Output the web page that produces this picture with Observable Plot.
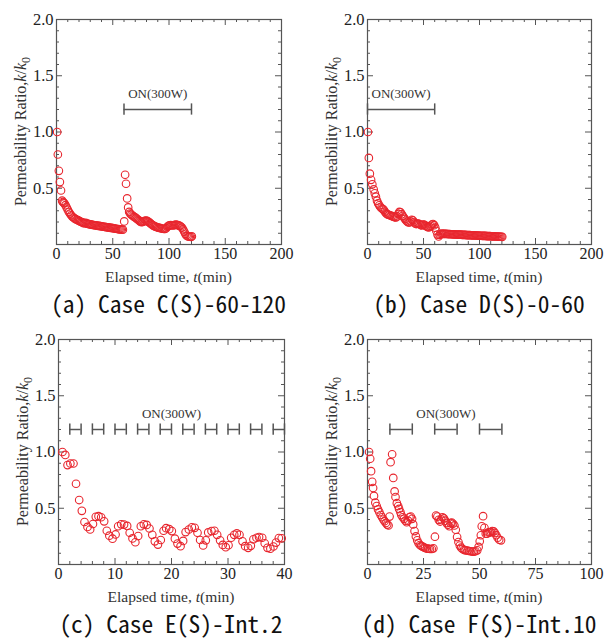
<!DOCTYPE html>
<html><head><meta charset="utf-8">
<script src="https://cdn.jsdelivr.net/npm/d3@7"></script>
<script src="https://cdn.jsdelivr.net/npm/@observablehq/plot@0.6"></script>
<style>
body{margin:0;background:#fff;}
#grid{display:grid;grid-template-columns:302px 302px;width:604px;}
.cell{width:302px;height:320px;position:relative;}
.cell svg{position:absolute;left:0;top:0;}
.cap{position:absolute;top:288px;height:30px;line-height:30px;text-align:center;font-family:"Noto Sans Mono CJK JP","DejaVu Sans Mono",monospace;font-size:23.5px;color:#111;white-space:pre;}
</style></head><body><div id="grid"></div>
<script>
// ---- data ----
const caseC = [[0.6,1.00],[1.2,0.80],[2.1,0.655],[3.0,0.555],[4.0,0.48],[5.0,0.39],[5.6,0.378],[6.3,0.372],[7,0.365],[8,0.35],[9,0.33],[10,0.31],[11,0.29],[12,0.275],[13,0.26],[14,0.248],[15,0.24],[16,0.232],[17,0.226],[18,0.22],[19,0.216],[20,0.21],[21,0.205],[22,0.2],[23,0.196],[24,0.19],[25,0.19],[26,0.192],[27,0.186],[28,0.183],[29,0.181],[30,0.179],[31,0.177],[32,0.175],[33,0.173],[34,0.171],[35,0.17],[36,0.168],[37,0.166],[38,0.165],[39,0.163],[40,0.161],[41,0.16],[42,0.158],[43,0.157],[44,0.155],[45,0.153],[46,0.152],[47,0.15],[48,0.148],[49,0.147],[50,0.145],[51,0.143],[52,0.142],[53,0.14],[54,0.138],[55,0.137],[56,0.135],[57,0.134],[58,0.133],[59,0.132],
[60.2,0.205],[61,0.62],[61.8,0.54],[62.8,0.41],[63.7,0.33],[64.6,0.29],[65.5,0.275],[66.5,0.265],[67.5,0.258],[68.5,0.25],[69.5,0.243],[70.5,0.236],[71.5,0.228],[72.5,0.22],[73.5,0.212],[74.5,0.204],[75.5,0.198],[76.5,0.2],[77.5,0.205],[78.5,0.21],[79.5,0.212],[80.5,0.21],[81.5,0.204],[82.5,0.196],[83.5,0.188],[84.5,0.18],[85.5,0.172],[86.5,0.166],[87.5,0.161],[88.5,0.157],[89.5,0.153],[90.5,0.15],[91.5,0.148],[92.5,0.145],[93.5,0.142],[94.5,0.14],[95.5,0.138],[96.5,0.138],[97.5,0.145],[98.5,0.158],[99.5,0.166],[100.5,0.17],[101.5,0.172],[102.5,0.171],[103.5,0.17],[104.5,0.172],[105.5,0.175],[106.5,0.176],[107.5,0.173],[108.5,0.17],[109.5,0.166],[110.5,0.16],[111.5,0.15],[112.5,0.135],[113.5,0.115],[114.5,0.095],[115.5,0.08],[116.5,0.074],[117.5,0.07],[118.5,0.069],[119.5,0.068],[120.3,0.072]];

const caseD = [[0.4,1.0],[1.2,0.77],[2.1,0.63],[3.2,0.575],[4.3,0.535],[5.5,0.49],[6.5,0.455],[7.5,0.425],[8.5,0.39],[9.5,0.365],[10.5,0.348],[11.5,0.333],[12.5,0.322],[13.5,0.316],[14.5,0.308],[15.5,0.292],[16.5,0.278],[17.5,0.27],[18.5,0.266],[19.5,0.262],[20.5,0.258],[21.5,0.254],[22.5,0.25],[23.5,0.246],[24.5,0.242],[25.5,0.24],[26.5,0.25],[27.5,0.272],[28.5,0.29],[29.5,0.286],[30.5,0.27],[31.5,0.255],[32.5,0.24],[33.5,0.226],[34.5,0.213],[35.5,0.203],[36.5,0.196],[37.5,0.196],[38.5,0.206],[39.5,0.22],[40.5,0.215],[41.5,0.2],[42.5,0.187],[43.5,0.182],[44.5,0.186],[45.5,0.186],[46.5,0.18],[47.5,0.173],[48.5,0.17],[49.5,0.176],[50.5,0.178],[51.5,0.17],[52.5,0.162],[53.5,0.156],[54.5,0.152],[55.5,0.156],[56.5,0.166],[57.5,0.178],[58.5,0.182],[59.5,0.172],[60.5,0.15],[61.5,0.12],[62.5,0.088],[63.5,0.072],[64.5,0.086],[65.5,0.093],[66.5,0.096],[67.5,0.095],[68.5,0.095],[69.5,0.094],[70.5,0.094],[71.5,0.093],[72.5,0.093],[73.5,0.092],[74.5,0.091],[75.5,0.091],[76.5,0.09],[77.5,0.09],[78.5,0.089],[79.5,0.089],[80.5,0.088],[81.5,0.088],[82.5,0.087],[83.5,0.087],[84.5,0.086],[85.5,0.086],[86.5,0.085],[87.5,0.085],[88.5,0.084],[89.5,0.084],[90.5,0.083],[91.5,0.083],[92.5,0.082],[93.5,0.082],[94.5,0.081],[95.5,0.081],[96.5,0.08],[97.5,0.08],[98.5,0.079],[99.5,0.079],[100.5,0.078],[101.5,0.078],[102.5,0.077],[103.5,0.077],[104.5,0.076],[105.5,0.076],[106.5,0.075],[107.5,0.075],[108.5,0.074],[109.5,0.074],[110.5,0.073],[111.5,0.073],[112.5,0.072],[113.5,0.072],[114.5,0.071],[115.5,0.071],[116.5,0.07],[117.5,0.07],[118.5,0.069],[119.5,0.069],[120.3,0.068]];

const caseE = [[0.7,1.0],[1.2,0.974],[1.6,0.884],[2.1,0.898],[2.65,0.898],[3.1,0.718],[3.66,0.573],[4.13,0.477],[4.6,0.378],[5.13,0.334],[5.6,0.311],[6.1,0.36],[6.6,0.424],[7.08,0.43],[7.55,0.42],[8.08,0.384],[8.55,0.30],[9.0,0.256],[9.56,0.23],[10.1,0.267],[10.56,0.34],[11.1,0.357],[11.6,0.355],[12.15,0.343],[12.6,0.282],[13.1,0.232],[13.6,0.198],[14.1,0.253],[14.57,0.34],[15.1,0.357],[15.6,0.352],[16.1,0.32],[16.6,0.264],[17.05,0.206],[17.6,0.177],[18.1,0.218],[18.6,0.30],[19.05,0.323],[19.6,0.314],[20.06,0.297],[20.6,0.23],[21.06,0.186],[21.6,0.163],[22.06,0.21],[22.5,0.288],[23.07,0.311],[23.6,0.331],[24.1,0.326],[24.6,0.282],[25.07,0.218],[25.6,0.17],[26.07,0.215],[26.5,0.285],[27.08,0.297],[27.6,0.30],[28.08,0.264],[28.6,0.215],[29.08,0.174],[29.6,0.154],[30.09,0.171],[30.56,0.238],[31.1,0.264],[31.56,0.276],[32.03,0.264],[32.57,0.206],[33.04,0.163],[33.57,0.148],[34.04,0.166],[34.5,0.224],[35.04,0.238],[35.5,0.244],[36.05,0.238],[36.5,0.189],[36.99,0.148],[37.5,0.14],[38.05,0.16],[38.5,0.195],[39.0,0.235],[39.5,0.233]];

const caseF = [[0.7,1.0],[1.2,0.94],[1.6,0.83],[2.1,0.735],[2.5,0.68],[2.9,0.61],[3.5,0.55],[4.1,0.52],[4.7,0.49],[5.3,0.465],[5.9,0.44],[6.5,0.42],[7.1,0.40],[7.6,0.385],[8.2,0.37],[8.8,0.355],[9.4,0.347],[9.85,0.426],[10.3,0.91],[11.0,0.98],[11.5,0.77],[12.1,0.65],[12.5,0.60],[13.1,0.545],[13.7,0.52],[14.1,0.494],[14.7,0.465],[15.1,0.44],[15.7,0.42],[16.3,0.406],[16.9,0.39],[17.5,0.376],[18.1,0.39],[18.7,0.42],[19.3,0.426],[19.9,0.406],[20.4,0.356],[21.0,0.297],[21.6,0.25],[22.2,0.215],[22.8,0.19],[23.4,0.173],[24.0,0.165],[24.6,0.159],[25.1,0.153],[25.7,0.147],[26.5,0.141],[27.2,0.141],[27.9,0.138],[28.7,0.138],[29.4,0.144],[30.1,0.247],[30.6,0.435],[31.2,0.426],[31.8,0.397],[32.4,0.382],[32.9,0.40],[33.5,0.42],[34.1,0.41],[34.7,0.39],[35.3,0.368],[35.9,0.353],[36.5,0.34],[37.1,0.368],[37.6,0.373],[38.2,0.362],[38.8,0.347],[39.4,0.309],[40.0,0.244],[40.6,0.20],[41.2,0.168],[41.8,0.15],[42.4,0.138],[43.1,0.13],[43.8,0.126],[44.6,0.124],[45.3,0.12],[46.0,0.118],[46.8,0.115],[47.5,0.115],[48.2,0.118],[49.0,0.126],[49.6,0.156],[50.1,0.206],[50.6,0.26],[51.0,0.34],[51.6,0.43],[52.2,0.326],[52.8,0.274],[53.4,0.274],[54.0,0.285],[54.6,0.285],[55.1,0.288],[55.7,0.297],[56.3,0.294],[56.9,0.28],[57.5,0.26],[58.1,0.238],[58.8,0.22],[59.6,0.215]];

const onC = [[60,120]];
const onD = [[0,60]];
const onE = [[2,4],[6,8],[10,12],[14,16],[18,20],[22,24],[26,28],[30,32],[34,36],[38,40]];
const onF = [[10,20],[30,40],[50,60]];
const onLabelX = {C: 90, D: 30, E: 20, F: 35};
const onLevel = 1.2;
const onLabel = "ON(300W)";

const yTickLabels = [0.5, 1.0, 1.5, 2.0];
const yMajor = [0.5, 1.0, 1.5];
const yMinor = [0.1,0.2,0.3,0.4,0.6,0.7,0.8,0.9,1.1,1.2,1.3,1.4,1.6,1.7,1.8,1.9];
const xTicksAB = [0, 50, 100, 150, 200];
const xMinorAB = [10,20,30,40,60,70,80,90,110,120,130,140,160,170,180,190];
const xTicksE = [0, 10, 20, 30, 40];
const xMinorE = [2,4,6,8,12,14,16,18,22,24,26,28,32,34,36,38];
const xTicksF = [0, 25, 50, 75, 100];
const xMinorF = [5,10,15,20,30,35,40,45,55,60,65,70,80,85,90,95];

const captions = ["(a) Case C(S)-60-120", "(b) Case D(S)-0-60", "(c) Case E(S)-Int.2", "(d) Case F(S)-Int.10"];

// ---- drawing ----
const RED = "#e8262e";
const AX = "#555";
const W = 302, H = 290, mT = 19, mB = 46;

function panel(cfg) {
  const {pts, xMax, xTicks, xMinor, bars, labelX, mL, mR, cap} = cfg;
  const fw = W - mL - mR, fh = H - mT - mB;
  const xMaj = xTicks.slice(1, -1);
  const data = pts.map(([t, k]) => ({t, k}));
  const barData = bars.map(([a, b]) => ({a, b}));
  const capData = bars.flatMap(([a, b]) => [a, b]);
  const svg = Plot.plot({
    width: W, height: H, marginLeft: mL, marginRight: mR, marginTop: mT, marginBottom: mB,
    style: {fontFamily: "'Liberation Serif', 'Times New Roman', serif", fontSize: "16px", background: "transparent", color: "#222", overflow: "visible"},
    x: {domain: [0, xMax]},
    y: {domain: [0, 2]},
    marks: [
      Plot.tickX(xMinor, {x: d => d, insetTop: fh - 3, stroke: AX}),
      Plot.tickX(xMinor, {x: d => d, insetBottom: fh - 3, stroke: AX}),
      Plot.tickX(xMaj, {x: d => d, insetTop: fh - 6, stroke: AX}),
      Plot.tickX(xMaj, {x: d => d, insetBottom: fh - 6, stroke: AX}),
      Plot.tickY(yMinor, {y: d => d, insetRight: fw - 3, stroke: AX}),
      Plot.tickY(yMinor, {y: d => d, insetLeft: fw - 3, stroke: AX}),
      Plot.tickY(yMajor, {y: d => d, insetRight: fw - 6, stroke: AX}),
      Plot.tickY(yMajor, {y: d => d, insetLeft: fw - 6, stroke: AX}),
      Plot.frame({stroke: AX, strokeWidth: 1.2}),
      Plot.axisX(xTicks, {tickSize: 0, tickPadding: 3, label: null, fontSize: 16}),
      Plot.axisY(yTickLabels, {tickSize: 0, tickPadding: 3, label: null, fontSize: 16.5, tickFormat: d => d.toFixed(1)}),
      Plot.ruleY(barData, {x1: "a", x2: "b", y: () => onLevel, stroke: AX, strokeWidth: 1.5}),
      Plot.ruleX(capData, {x: d => d, y1: onLevel - 0.05, y2: onLevel + 0.05, stroke: AX, strokeWidth: 1.5}),
      Plot.text([onLabel], {x: labelX, y: 1.335, text: d => d, fontSize: 13, fill: "#333"}),
      Plot.dot(data, {x: "t", y: "k", r: 3.8, stroke: RED, strokeWidth: 1.1, fill: "none"})
    ]
  });
  const s = d3.select(svg);
  const yl = s.append("text")
    .attr("transform", `translate(${mL - 30},${mT + fh / 2}) rotate(-90)`)
    .attr("text-anchor", "middle").attr("fill", "#333")
    .style("font-size", "16px");
  yl.append("tspan").text("Permeability Ratio,");
  yl.append("tspan").attr("font-style", "italic").text("k");
  yl.append("tspan").text("/");
  yl.append("tspan").attr("font-style", "italic").text("k");
  yl.append("tspan").attr("dy", 4).style("font-size", "12px").text("0");
  const xl = s.append("text")
    .attr("x", mL + fw / 2).attr("y", mT + fh + 38)
    .attr("text-anchor", "middle").attr("fill", "#333")
    .style("font-size", "15.5px");
  xl.append("tspan").text("Elapsed time, ");
  xl.append("tspan").attr("font-style", "italic").text("t");
  xl.append("tspan").text("(min)");

  const cell = document.createElement("div");
  cell.className = "cell";
  cell.appendChild(svg);
  const c = document.createElement("div");
  c.className = "cap";
  c.style.left = (mL - 10) + "px";
  c.style.width = (fw + 20) + "px";
  c.textContent = cap;
  cell.appendChild(c);
  document.getElementById("grid").appendChild(cell);
}

panel({pts: caseC, xMax: 200, xTicks: xTicksAB, xMinor: xMinorAB, bars: onC, labelX: onLabelX.C, mL: 56, mR: 21, cap: captions[0]});
panel({pts: caseD, xMax: 200, xTicks: xTicksAB, xMinor: xMinorAB, bars: onD, labelX: onLabelX.D, mL: 65, mR: 13, cap: captions[1]});
panel({pts: caseE, xMax: 40, xTicks: xTicksE, xMinor: xMinorE, bars: onE, labelX: onLabelX.E, mL: 58, mR: 18, cap: captions[2]});
panel({pts: caseF, xMax: 100, xTicks: xTicksF, xMinor: xMinorF, bars: onF, labelX: onLabelX.F, mL: 65, mR: 13, cap: captions[3]});
</script></body></html>
